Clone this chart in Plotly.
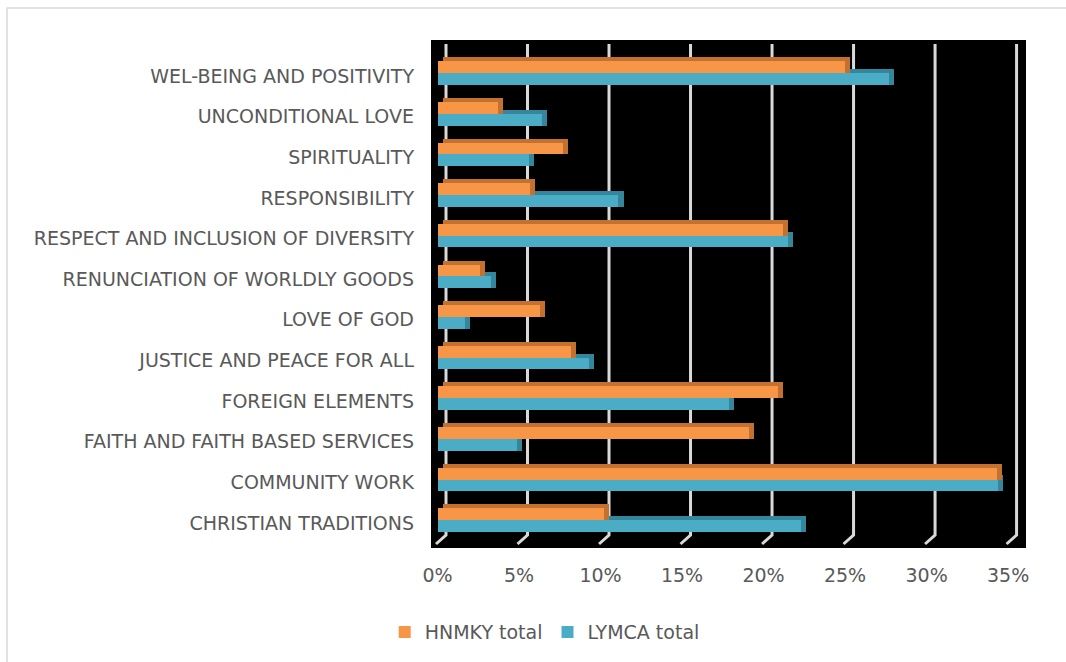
import plotly.graph_objects as go

# Categories listed bottom-to-top as they appear on the axis
categories = [
    "CHRISTIAN TRADITIONS",
    "COMMUNITY WORK",
    "FAITH AND FAITH BASED SERVICES",
    "FOREIGN ELEMENTS",
    "JUSTICE AND PEACE FOR ALL",
    "LOVE OF GOD",
    "RENUNCIATION OF WORLDLY GOODS",
    "RESPECT AND INCLUSION OF DIVERSITY",
    "RESPONSIBILITY",
    "SPIRITUALITY",
    "UNCONDITIONAL LOVE",
    "WEL-BEING AND POSITIVITY",
]
hnmky_total = [10.2, 34.3, 19.1, 20.9, 8.2, 6.3, 2.6, 21.2, 5.7, 7.7, 3.7, 25.0]
lymca_total = [22.3, 34.4, 4.9, 17.9, 9.3, 1.7, 3.3, 21.5, 11.1, 5.6, 6.4, 27.7]
x_ticks = [0, 5, 10, 15, 20, 25, 30, 35]
x_tick_labels = [f"{t}%" for t in x_ticks]

W, H = 1066, 662
M_L, M_R, M_T, M_B = 431, 40, 40, 114
FONT = "DejaVu Sans"
FS = 19
GREY = "#595959"

ORANGE, ORANGE_DARK = "#F79646", "#C4702F"
BLUE, BLUE_DARK = "#4BACC6", "#34869C"

BAR_W = 0.29        # front face thickness (category units)
DEPTH_Y = 0.10      # visible top face thickness
DEPTH_X = 0.31      # visible side face width (% units)

fig = go.Figure()

# pseudo-3D: a darker copy behind each bar, nudged up and right
for vals, dark, off in [(lymca_total, BLUE_DARK, -0.22), (hnmky_total, ORANGE_DARK, 0.07)]:
    fig.add_trace(go.Bar(
        y=categories, x=vals, base=DEPTH_X, orientation="h",
        offset=off, width=BAR_W + DEPTH_Y,
        marker=dict(color=dark, line=dict(width=0)),
        showlegend=False, hoverinfo="skip",
    ))

fig.add_trace(go.Bar(
    y=categories, x=lymca_total, orientation="h", name="LYMCA total",
    offset=-0.22, width=BAR_W, legendrank=2,
    marker=dict(color=BLUE, line=dict(width=0)),
))
fig.add_trace(go.Bar(
    y=categories, x=hnmky_total, orientation="h", name="HNMKY total",
    offset=0.07, width=BAR_W, legendrank=1,
    marker=dict(color=ORANGE, line=dict(width=0)),
))

# back-wall gridlines with the slanted foot down to the floor edge
shapes = []
for t in x_ticks:
    shapes.append(dict(
        type="path", layer="below",
        xref="x", xsizemode="pixel", xanchor=t,
        yref="paper", ysizemode="pixel", yanchor=0,
        path="M -1.5,4 L 8.5,13 L 8.5,504",
        line=dict(color="#D9D9D9", width=3),
    ))

# outer chart border
pw = W - M_L - M_R
ph = H - M_T - M_B
def px_x(p):
    return (p - M_L) / pw
def px_y(p):
    return (H - M_B - p) / ph
shapes.append(dict(
    type="rect", xref="paper", yref="paper",
    x0=px_x(7), x1=px_x(1080), y0=px_y(8), y1=px_y(680),
    line=dict(color="#D9D9D9", width=1.5), fillcolor="rgba(0,0,0,0)",
))

fig.update_layout(
    width=W, height=H,
    margin=dict(l=M_L, r=M_R, t=M_T, b=M_B),
    paper_bgcolor="white", plot_bgcolor="black",
    barmode="overlay", bargap=0,
    font=dict(family=FONT, size=FS, color=GREY),
    shapes=shapes,
    legend=dict(
        orientation="h", xref="container", yref="container",
        x=0.511, xanchor="center", y=0.045, yanchor="middle",
        font=dict(family=FONT, size=FS, color=GREY),
        traceorder="normal", itemwidth=30,
    ),
    xaxis=dict(
        range=[-0.399, 36.10], tickvals=x_ticks, ticktext=x_tick_labels,
        showgrid=False, zeroline=False, showline=False, ticks="",
        tickfont=dict(family=FONT, size=FS, color=GREY),
        ticklabelstandoff=14, fixedrange=True,
    ),
    yaxis=dict(
        type="category", categoryorder="array", categoryarray=categories,
        range=[-0.615, 11.886], showgrid=False, zeroline=False,
        showline=False, ticks="",
        tickfont=dict(family=FONT, size=FS, color=GREY),
        ticklabelstandoff=16, fixedrange=True,
    ),
)

fig.write_html("out.html")
